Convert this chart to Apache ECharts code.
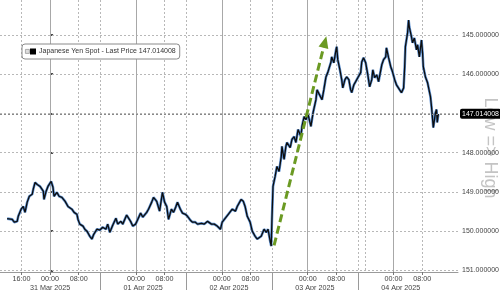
<!DOCTYPE html>
<html><head><meta charset="utf-8">
<script src="https://cdn.jsdelivr.net/npm/echarts@6/dist/echarts.min.js"></script>
<style>html,body{margin:0;padding:0;background:#fff}#c{width:500px;height:290px}</style>
</head><body><div id="c"></div>
<script>
const seriesName = 'Japanese Yen Spot - Last Price 147.014008';
// hours relative to 31 Mar 2025 00:00
const hours = [-12.0,-10.6,-10.0,-9.2,-8.9,-8.1,-7.5,-7.0,-6.4,-5.8,-5.0,-4.7,-4.2,-3.6,-2.8,-1.9,-1.7,-1.1,-0.6,0.3,0.8,1.1,1.9,2.5,3.3,4.2,5.0,6.1,6.7,7.5,7.8,8.3,9.2,9.7,10.3,11.1,11.7,12.2,13.1,13.9,14.7,15.6,16.1,16.7,17.5,18.4,18.9,19.8,20.3,21.4,21.7,22.5,23.1,23.9,24.5,25.3,25.9,27.0,27.5,28.4,28.9,29.8,30.6,31.4,32.0,32.6,33.1,33.9,34.5,35.1,35.6,36.4,37.0,37.8,38.4,39.2,39.8,40.6,41.2,42.3,43.1,44.0,45.1,45.9,46.7,47.6,48.1,49.2,49.8,50.9,51.8,52.3,53.4,54.0,54.5,55.1,55.9,56.5,57.3,57.9,59.0,59.8,60.4,60.9,61.5,61.8,62.0,62.3,62.9,63.4,64.0,64.6,64.8,65.4,65.9,66.2,67.1,67.6,68.2,68.7,69.3,70.1,70.4,71.0,71.5,72.1,72.9,73.5,74.3,74.6,75.1,76.0,76.5,77.1,77.6,78.5,78.7,79.3,79.9,80.1,80.4,81.0,81.5,81.8,82.4,82.9,83.5,84.0,84.3,84.9,85.4,86.0,86.8,87.1,87.6,88.2,88.8,89.3,89.9,90.2,90.7,91.3,91.8,92.7,93.2,93.8,94.0,94.6,95.2,95.7,96.3,96.8,97.7,98.2,98.8,99.1,99.3,99.9,100.2,100.4,101.0,101.3,101.8,102.4,102.7,103.2,103.8,104.1,104.3,104.9,105.5,106.3,106.6,107.1,107.7,108.0,108.2,108.5];
const prices = [149.68,149.70,149.77,149.75,149.62,149.44,149.37,149.52,149.26,149.11,149.06,148.93,148.76,148.81,148.86,148.98,149.19,148.98,148.86,148.73,148.88,149.11,149.01,149.11,149.14,149.24,149.37,149.44,149.52,149.57,149.70,149.82,149.87,149.95,150.00,150.13,150.20,150.08,149.95,149.97,149.90,149.95,149.82,150.03,149.85,149.67,149.82,149.75,149.82,149.59,149.54,149.75,149.87,149.82,149.70,149.54,149.64,149.52,149.44,149.26,149.14,149.24,149.49,149.01,149.26,149.37,149.70,149.44,149.52,149.39,149.26,149.44,149.54,149.57,149.62,149.72,149.77,149.77,149.82,149.80,149.82,149.75,149.82,149.82,149.87,149.95,149.77,149.64,149.57,149.44,149.49,149.37,149.19,149.24,149.37,149.62,149.77,150.00,150.13,150.20,150.13,149.95,150.03,149.95,150.25,150.38,149.70,148.86,148.60,148.35,148.48,148.10,147.84,148.17,147.84,147.74,147.87,147.66,147.59,147.74,147.41,147.59,147.33,147.08,147.16,147.03,147.33,146.98,146.65,146.40,146.35,146.65,146.40,146.07,145.96,145.69,145.56,145.71,145.38,145.30,145.63,145.89,146.14,146.35,146.14,146.07,146.14,146.40,146.47,146.27,146.19,146.09,145.96,145.69,145.58,145.71,146.02,146.32,146.14,145.89,146.09,146.02,146.19,145.76,145.63,145.56,145.33,145.58,145.81,145.94,146.14,146.27,146.40,146.47,146.35,145.81,145.30,144.95,144.62,144.80,145.05,145.20,145.08,145.38,145.25,145.56,145.13,145.46,145.81,146.07,146.22,146.57,146.83,147.36,146.98,146.90,147.23,147.014008];
const yTicks = [145,146,147,148,149,150,151];
const timeTicks = [-8,0,8,24,32,48,56,72,80,96,104];
const dayLabelPos = [0,26,50,74,98];
const dayLabels = ['31 Mar 2025','01 Apr 2025','02 Apr 2025','03 Apr 2025','04 Apr 2025'];
const dayBreaks = [14,38,62,86];
const midnights = [0,24,48,72,96];
const dottedTimes = [-8,8,14,32,38,56,62,80,86,88,104];
const lastPrice = 147.014008;
const arrowFrom = [62.6,150.36];
const arrowTo = [76.8,145.18];
const axisName = 'Low => High';

const FONT = '"Liberation Sans",Arial,sans-serif';
const pts = hours.map((h,i)=>[h,prices[i]]);
const xMin=-14, xMax=114, yMin=144.11, yMax=151.04;
const fmtHour = h => String(((h%24)+24)%24).padStart(2,'0')+':00';

const chart = echarts.init(document.getElementById('c'), null, {renderer:'canvas'});
chart.setOption({
  animation:false,
  backgroundColor:'#fff',
  grid:{left:0,right:42,top:0,bottom:18,containLabel:false,outerBoundsMode:'none'},
  legend:{
    left:22, top:44, orient:'horizontal',
    data:[{name:seriesName, itemStyle:{color:'#000'}}],
    icon:'rect', itemWidth:6, itemHeight:6, itemGap:4,
    backgroundColor:'#fff', borderColor:'#8a8a8a', borderWidth:1, borderRadius:3,
    padding:[4,4,4,8],
    textStyle:{fontFamily:FONT, fontSize:7, color:'#333', padding:[0,0,0,-2]}
  },
  xAxis:[{
    type:'value', min:xMin, max:xMax, position:'bottom',
    axisLine:{show:true, lineStyle:{color:'#9a9a9a', width:1}},
    axisTick:{show:true, customValues:timeTicks, length:3, lineStyle:{color:'#777'}},
    axisLabel:{customValues:timeTicks, formatter:v=>fmtHour(v), fontFamily:FONT, fontSize:7.2, color:'#444', margin:4},
    splitLine:{show:false}
  },{
    type:'value', min:xMin, max:xMax, position:'bottom',
    axisLine:{show:false},
    axisTick:{show:true, customValues:dayBreaks, length:18, lineStyle:{color:'#9a9a9a'}},
    axisLabel:{customValues:dayLabelPos, formatter:v=>dayLabels[dayLabelPos.indexOf(v)]||'', fontFamily:FONT, fontSize:7.2, color:'#444', margin:13},
    splitLine:{show:false}
  }],
  yAxis:{
    type:'value', position:'right', inverse:true, min:yMin, max:yMax,
    axisLine:{show:true, lineStyle:{color:'#9a9a9a'}},
    axisTick:{show:true, customValues:yTicks, length:3, lineStyle:{color:'#111', width:1.5}},
    axisLabel:{customValues:yTicks, formatter:v=>v.toFixed(6), fontFamily:FONT, fontSize:7, color:'#444', margin:4},
    splitLine:{show:false}
  },
  graphic:[
    {type:'rect', left:25, top:49, shape:{width:4,height:4}, style:{fill:'#ddd', stroke:'#999', lineWidth:0.8}, z:100},
    {type:'text', x:490, y:148, rotation:-Math.PI/2, z:-1, zlevel:0,
     style:{text:axisName, fill:'#c4c4c4', font:'18px "Liberation Sans", sans-serif', align:'center', verticalAlign:'middle'}}
  ],
  series:[
    {
      type:'line', name:'grid', data:[], silent:true, z:1,
      markLine:{silent:true, symbol:['none','none'], z:1, animation:false, label:{show:false},
        data:[].concat(
          yTicks.map(v=>({yAxis:v, lineStyle:{color:'#b8b8b8', type:[2,2], width:1}})),
          midnights.map(v=>({xAxis:v, lineStyle:{color:'#a8a8a8', type:'solid', width:1}})),
          dottedTimes.map(v=>({xAxis:v, lineStyle:{color:'#b8b8b8', type:[2,2], width:1}}))
        )}
    },
    {
      type:'line', name:'blue', data:pts, showSymbol:false, symbol:'none', z:3,
      lineStyle:{color:'#5b8fd0', width:2.6}
    },
    {
      type:'line', name:seriesName, data:pts, showSymbol:false, symbol:'none', z:4,
      lineStyle:{color:'#0d0d0d', width:1.3},
      markLine:{silent:true, symbol:['none','none'], z:6,
        data:[{yAxis:lastPrice, lineStyle:{color:'#888', type:[2,2], width:1},
          label:{show:true, position:'end', distance:2, formatter:()=>lastPrice.toFixed(6),
            backgroundColor:'#000', color:'#fff', fontFamily:FONT, fontSize:7, padding:[2,2,1,2], borderRadius:2}}]}
    },
    {
      type:'line', name:'arrow', data:[], silent:true, z:7,
      markLine:{silent:true, z:7, symbol:['none','triangle'], symbolSize:[10,12],
        label:{show:false},
        lineStyle:{color:'#6b9a23', width:3, type:[8,4]},
        data:[[{coord:arrowFrom},{coord:arrowTo}]]}
    }
  ]
});
</script>
</body></html>
